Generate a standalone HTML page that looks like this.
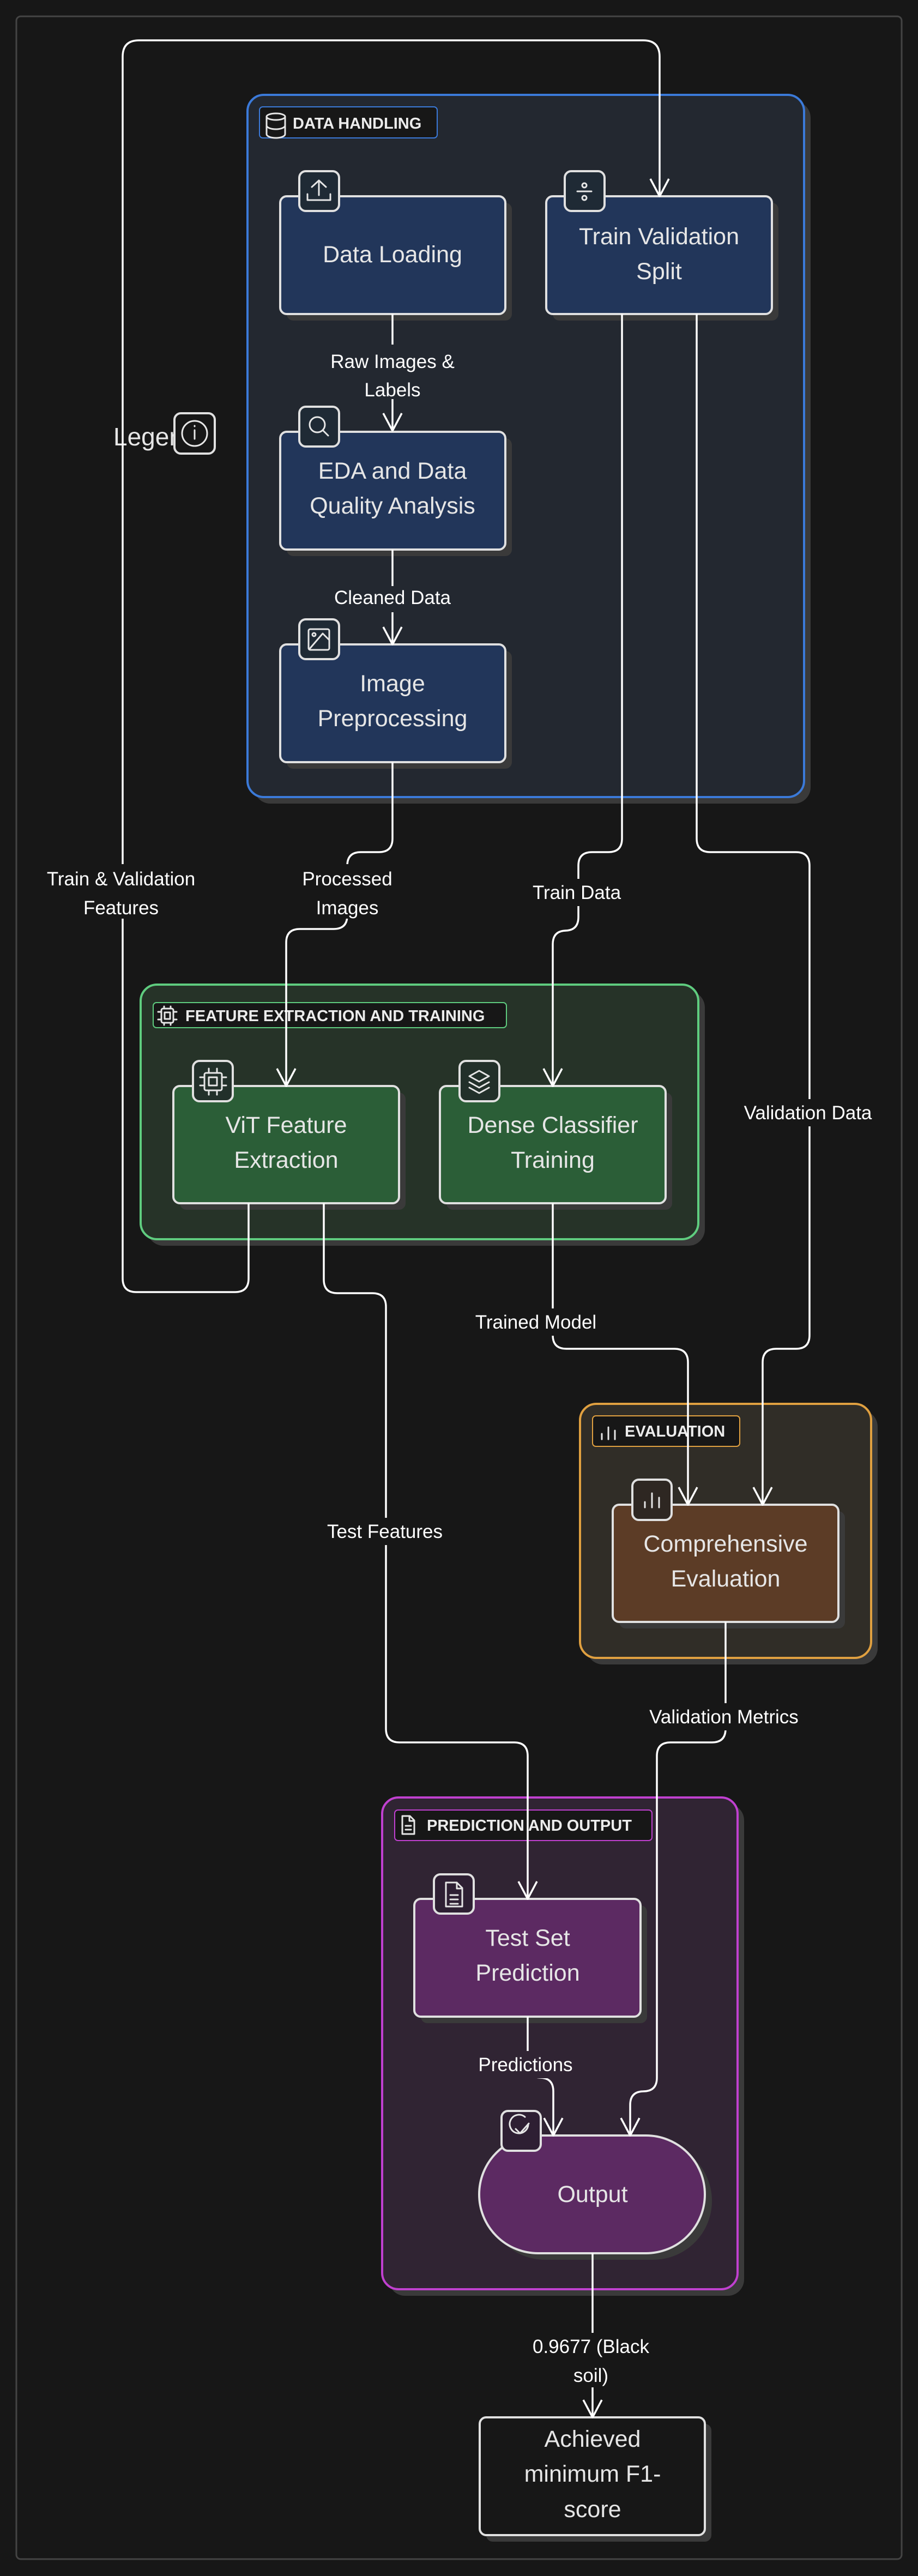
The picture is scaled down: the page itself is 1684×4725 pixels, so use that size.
<!DOCTYPE html>
<html><head><meta charset="utf-8"><style>
html,body{margin:0;padding:0;background:#171717;}
svg{display:block;}
text{font-family:"Liberation Sans",sans-serif;}
.nt{fill:#e6e6e6;font-size:43px;text-anchor:middle;}
.lt{fill:#ffffff;font-size:35px;text-anchor:middle;}
.gt{fill:#ececec;font-size:29px;font-weight:bold;}
.ln{fill:none;stroke:#ffffff;stroke-width:3.5;}
.ar{fill:none;stroke:#ffffff;stroke-width:3.5;stroke-linejoin:round;}
.ic{fill:none;stroke:#e6e6e6;stroke-width:3;stroke-linecap:round;stroke-linejoin:round;}
</style></head><body>
<svg width="1684" height="4725" viewBox="0 0 1684 4725" xmlns="http://www.w3.org/2000/svg">
<rect x="0" y="0" width="1684" height="4725" fill="#171717"/>
<rect x="30" y="30" width="1624" height="4664" rx="8" fill="none" stroke="#444" stroke-width="3"/>

<!-- Groups -->
<rect x="466" y="186" width="1021" height="1288" rx="30" fill="#3a3a3a"/>
<rect x="454" y="174" width="1021" height="1288" rx="30" fill="#232830" stroke="#3b7ad9" stroke-width="4"/>
<rect x="476" y="196" width="326" height="57" rx="6" fill="#171717" stroke="#3b7ad9" stroke-width="2"/>
<g class="ic"><ellipse cx="506" cy="214" rx="17" ry="6"/><path d="M489 214v32c0 4 8 7 17 7s17-3 17-7v-32M489 230c0 4 8 7 17 7s17-3 17-7"/></g>
<text x="537" y="236" class="gt">DATA HANDLING</text>

<rect x="270" y="1818" width="1023" height="467" rx="30" fill="#3a3a3a"/>
<rect x="258" y="1806" width="1023" height="467" rx="30" fill="#263328" stroke="#5fcc7f" stroke-width="4"/>
<rect x="281" y="1839" width="648" height="46" rx="6" fill="#171717" stroke="#5fcc7f" stroke-width="2"/>
<g class="ic" stroke-width="2.5"><rect x="296" y="1850" width="22" height="26" rx="3"/><rect x="302" y="1857" width="10" height="12"/><path d="M301 1846v4M313 1846v4M301 1876v4M313 1876v4M290 1856h6M290 1870h6M318 1856h6M318 1870h6"/></g>
<text x="340" y="1873" class="gt" font-size="28">FEATURE EXTRACTION AND TRAINING</text>

<rect x="1076" y="2587" width="534" height="466" rx="30" fill="#3a3a3a"/>
<rect x="1064" y="2575" width="534" height="466" rx="30" fill="#302d27" stroke="#e0a040" stroke-width="4"/>
<rect x="1087" y="2597" width="270" height="56" rx="6" fill="#171717" stroke="#e0a040" stroke-width="2"/>
<g class="ic" stroke-width="2.5"><path d="M1104 2640v-10M1116 2640v-22M1128 2640v-16"/></g>
<text x="1146" y="2635" class="gt">EVALUATION</text>

<rect x="713" y="3309" width="652" height="902" rx="30" fill="#3a3a3a"/>
<rect x="701" y="3297" width="652" height="902" rx="30" fill="#302433" stroke="#c040d0" stroke-width="4"/>
<rect x="724" y="3320" width="472" height="56" rx="6" fill="#171717" stroke="#c040d0" stroke-width="2"/>
<g class="ic" stroke-width="2.5"><path d="M738 3331h14l8 8v25h-22zM751 3331v9h9M744 3349h10M744 3356h10"/></g>
<text x="783" y="3358" class="gt">PREDICTION AND OUTPUT</text>

<!-- Nodes: shadows -->
<g fill="#3a3a3a">
<rect x="526" y="372" width="413" height="216" rx="12"/>
<rect x="1014" y="372" width="414" height="216" rx="12"/>
<rect x="526" y="804" width="413" height="216" rx="12"/>
<rect x="526" y="1194" width="413" height="216" rx="12"/>
<rect x="330" y="2004" width="414" height="215" rx="12"/>
<rect x="819" y="2004" width="414" height="215" rx="12"/>
<rect x="1136" y="2772" width="414" height="215" rx="12"/>
<rect x="772" y="3495" width="415" height="216" rx="12"/>
<rect x="892" y="3929" width="414" height="216" rx="108"/>
<rect x="892" y="4446" width="413" height="216" rx="12"/>
</g>
<g stroke="#e0e0e0" stroke-width="4">
<rect x="514" y="360" width="413" height="216" rx="12" fill="#22365a"/>
<rect x="1002" y="360" width="414" height="216" rx="12" fill="#22365a"/>
<rect x="514" y="792" width="413" height="216" rx="12" fill="#22365a"/>
<rect x="514" y="1182" width="413" height="216" rx="12" fill="#22365a"/>
<rect x="318" y="1992" width="414" height="215" rx="12" fill="#2b5e37"/>
<rect x="807" y="1992" width="414" height="215" rx="12" fill="#2b5e37"/>
<rect x="1124" y="2760" width="414" height="215" rx="12" fill="#5c3c26"/>
<rect x="760" y="3483" width="415" height="216" rx="12" fill="#5c2a62"/>
<rect x="879" y="3917" width="414" height="216" rx="108" fill="#5c2a62"/>
<rect x="880" y="4434" width="413" height="216" rx="12" fill="#171717"/>
</g>

<!-- Node texts -->
<text x="720" y="481" class="nt">Data Loading</text>
<text x="1209" y="448" class="nt">Train Validation</text>
<text x="1209" y="512" class="nt">Split</text>
<text x="720" y="878" class="nt">EDA and Data</text>
<text x="720" y="942" class="nt">Quality Analysis</text>
<text x="720" y="1268" class="nt">Image</text>
<text x="720" y="1332" class="nt">Preprocessing</text>
<text x="525" y="2078" class="nt">ViT Feature</text>
<text x="525" y="2142" class="nt">Extraction</text>
<text x="1014" y="2078" class="nt">Dense Classifier</text>
<text x="1014" y="2142" class="nt">Training</text>
<text x="1331" y="2846" class="nt">Comprehensive</text>
<text x="1331" y="2910" class="nt">Evaluation</text>
<text x="968" y="3569" class="nt">Test Set</text>
<text x="968" y="3633" class="nt">Prediction</text>
<text x="1087" y="4039" class="nt">Output</text>
<text x="1087" y="4488" class="nt">Achieved</text>
<text x="1087" y="4552" class="nt">minimum F1-</text>
<text x="1087" y="4617" class="nt">score</text>

<!-- Legend -->
<text x="208" y="817" fill="#e6e6e6" font-size="46">Legend</text>

<!-- Connectors -->
<path class="ln" d="M720 576V790"/>
<path class="ln" d="M720 1008V1180"/>
<path class="ln" d="M456 2207V2345Q456 2370 431 2370H250Q225 2370 225 2345V104Q225 74 255 74H1180Q1210 74 1210 104V358"/>
<path class="ln" d="M720 1398V1538Q720 1563 695 1563H662Q637 1563 637 1588V1679Q637 1704 612 1704H550Q525 1704 525 1729V1990"/>
<path class="ln" d="M1141 576V1538Q1141 1563 1116 1563H1086Q1061 1563 1061 1588V1682Q1061 1707 1036 1707H1039Q1014 1707 1014 1732V1990"/>
<path class="ln" d="M1278 576V1538Q1278 1563 1303 1563H1460Q1485 1563 1485 1588V2449Q1485 2474 1460 2474H1424Q1399 2474 1399 2499V2758"/>
<path class="ln" d="M1014 2207V2449Q1014 2474 1039 2474H1237Q1262 2474 1262 2499V2758"/>
<path class="ln" d="M594 2207V2347Q594 2372 619 2372H683Q708 2372 708 2397V3171Q708 3196 733 3196H943Q968 3196 968 3221V3481"/>
<path class="ln" d="M1331 2975V3171Q1331 3196 1306 3196H1230Q1205 3196 1205 3221V3811Q1205 3836 1180 3836H1181Q1156 3836 1156 3861V3915"/>
<path class="ln" d="M968 3699V3786Q968 3811 993 3811H990Q1015 3811 1015 3836V3915"/>
<path class="ln" d="M1087 4133V4432"/>
<!-- arrowheads -->
<g class="ar">
<path d="M703 758L720 790L737 758"/>
<path d="M703 1150L720 1182L737 1150"/>
<path d="M1193 328L1210 360L1227 328"/>
<path d="M508 1960L525 1992L542 1960"/>
<path d="M997 1960L1014 1992L1031 1960"/>
<path d="M1245 2728L1262 2760L1279 2728"/>
<path d="M1382 2728L1399 2760L1416 2728"/>
<path d="M951 3451L968 3483L985 3451"/>
<path d="M998 3885L1015 3917L1032 3885"/>
<path d="M1139 3885L1156 3917L1173 3885"/>
<path d="M1070 4402L1087 4434L1104 4402"/>
</g>

<!-- Edge labels -->
<g>
<rect x="585" y="632" width="270" height="100" fill="#232830"/>
<text x="720" y="675" class="lt">Raw Images &amp;</text>
<text x="720" y="727" class="lt">Labels</text>
<rect x="590" y="1075" width="260" height="48" fill="#232830"/>
<text x="720" y="1108" class="lt">Cleaned Data</text>
<rect x="60" y="1585" width="330" height="100" fill="#171717"/>
<text x="222" y="1624" class="lt">Train &amp; Validation</text>
<text x="222" y="1677" class="lt">Features</text>
<rect x="530" y="1585" width="215" height="100" fill="#171717"/>
<text x="637" y="1624" class="lt">Processed</text>
<text x="637" y="1677" class="lt">Images</text>
<rect x="965" y="1612" width="190" height="50" fill="#171717"/>
<text x="1058" y="1649" class="lt">Train Data</text>
<rect x="1355" y="2016" width="255" height="50" fill="#171717"/>
<text x="1482" y="2053" class="lt">Validation Data</text>
<rect x="860" y="2400" width="245" height="50" fill="#171717"/>
<text x="983" y="2437" class="lt">Trained Model</text>
<rect x="585" y="2784" width="245" height="50" fill="#171717"/>
<text x="706" y="2821" class="lt">Test Features</text>
<rect x="1180" y="3124" width="300" height="50" fill="#171717"/>
<text x="1328" y="3161" class="lt">Validation Metrics</text>
<rect x="860" y="3762" width="215" height="50" fill="#302433"/>
<text x="964" y="3799" class="lt">Predictions</text>
<rect x="955" y="4279" width="265" height="100" fill="#171717"/>
<text x="1084" y="4316" class="lt">0.9677 (Black</text>
<text x="1084" y="4369" class="lt">soil)</text>
</g>

<!-- Icon boxes -->
<g stroke="#e0e0e0" stroke-width="4">
<rect x="549" y="314" width="73" height="73" rx="12" fill="#1f2a35"/>
<rect x="1036" y="314" width="73" height="73" rx="12" fill="#1f2a35"/>
<rect x="549" y="746" width="73" height="73" rx="12" fill="#1f2a35"/>
<rect x="549" y="1136" width="73" height="73" rx="12" fill="#1f2a35"/>
<rect x="354" y="1946" width="73" height="74" rx="12" fill="#22302a"/>
<rect x="843" y="1946" width="73" height="74" rx="12" fill="#22302a"/>
<rect x="1160" y="2714" width="72" height="74" rx="12" fill="#2e2722"/>
<rect x="796" y="3438" width="73" height="72" rx="12" fill="#2e1f33"/>
<rect x="920" y="3872" width="72" height="73" rx="12" fill="#2e1f33"/>
<rect x="320" y="758" width="74" height="74" rx="12" fill="#171717"/>
</g>
<g class="ic">
<path d="M572 343l13-12 13 12M585 331v27M564 356v11h42v-11"/>
<circle cx="1072" cy="340" r="4"/><circle cx="1072" cy="363" r="4"/><path d="M1059 351h26"/>
<circle cx="582" cy="779" r="14"/><path d="M592 789l10 10"/>
<rect x="566" y="1154" width="38" height="38" rx="3"/><circle cx="576" cy="1164" r="3"/><path d="M604 1174l-12-12-24 28"/>
<rect x="375" y="1968" width="32" height="32" rx="3"/><rect x="383" y="1976" width="15" height="15"/><path d="M383 1960v8M398 1960v8M383 2000v8M398 2000v8M367 1976h8M367 1991h8M407 1976h8M407 1991h8"/>
<path d="M879 1964l18 10-18 10-18-10zM861 1985l18 10 18-10M861 1995l18 10 18-10"/>
<path d="M1183 2765v-10M1196 2765v-26M1209 2765v-18"/>
<path d="M818 3453h20l10 10v34h-30zM838 3453v11h10M826 3476h14M826 3484h14M826 3492h14"/>
<path d="M969 3896a17 17 0 1 1 -6 -13"/><path d="M946 3905l8 8 16-18"/>
<circle cx="357" cy="795" r="23"/><path d="M357 789v16M357 781v1"/>
</g>
</svg>
</body></html>
